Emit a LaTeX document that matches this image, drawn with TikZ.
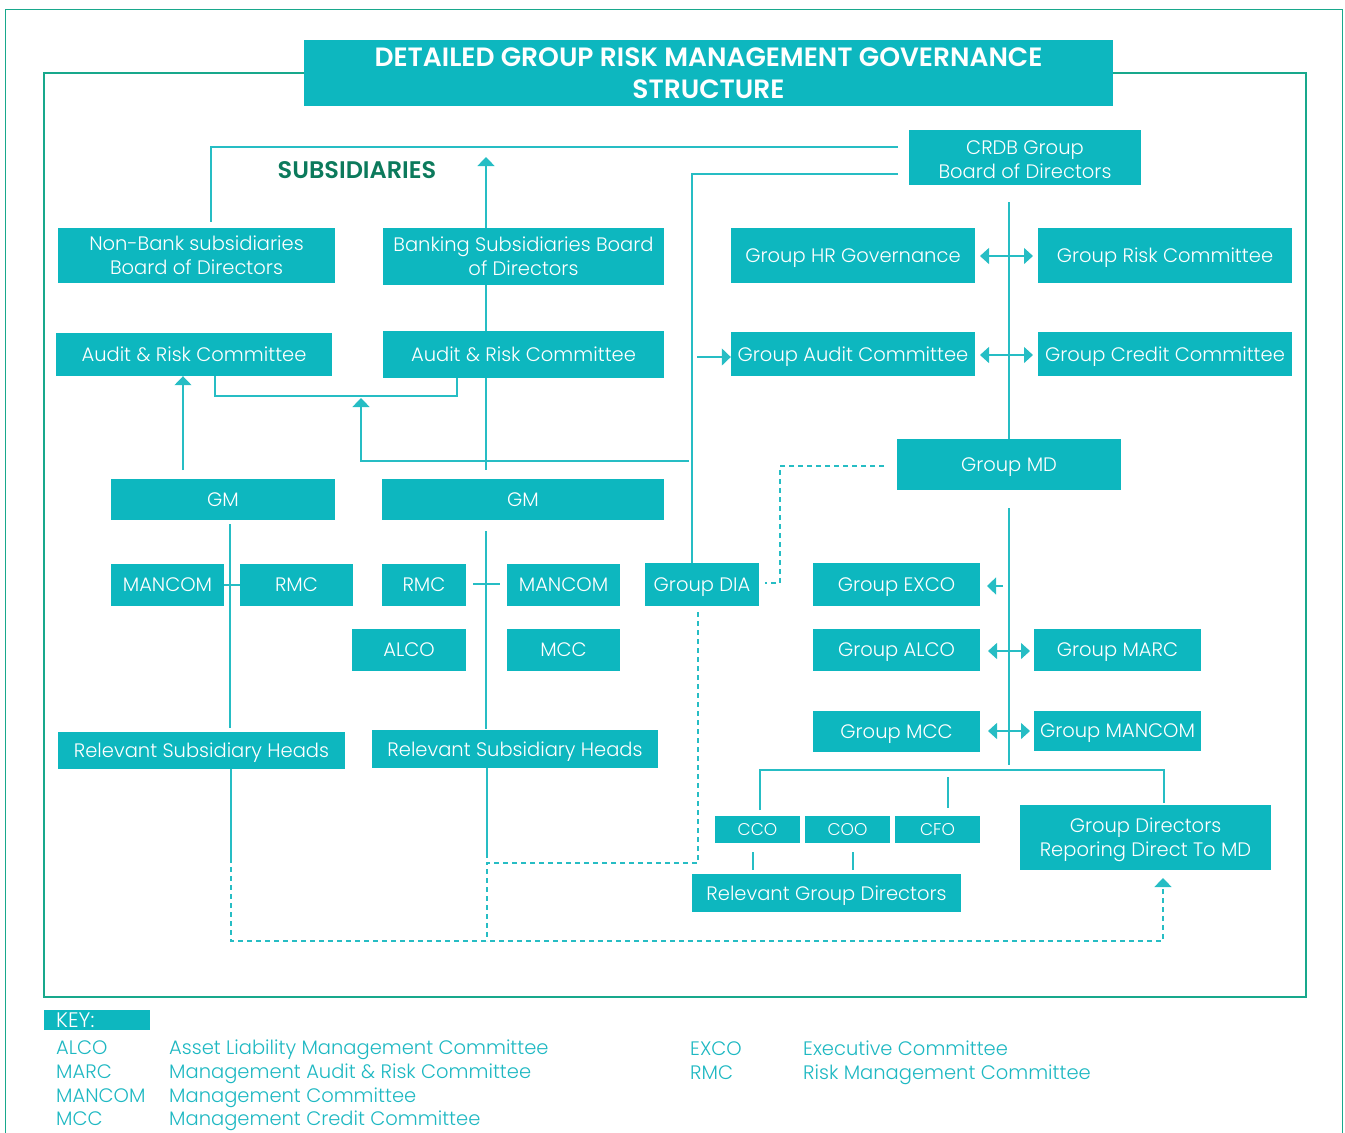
\documentclass[tikz,border=0pt]{standalone}
\usepackage{fontspec}
\setmainfont{Poppins}[UprightFont=* Light]
\usetikzlibrary{arrows.meta}

\definecolor{boxc}{RGB}{13,183,191}
\definecolor{linec}{RGB}{38,189,196}
\definecolor{framec}{RGB}{24,168,140}
\definecolor{subc}{RGB}{12,122,92}
\definecolor{keyc}{RGB}{30,184,194}

\tikzset{
  box/.style={fill=boxc, text=white, inner sep=0pt, align=center, text depth=0pt,
              font=\fontsize{19.5}{24}\selectfont},
  link/.style={draw=linec, line width=1.3pt},
  dlink/.style={link, dash pattern=on 5pt off 4pt},
  onehead/.style={-{Triangle[width=17pt,length=9pt]}},
  twoheads/.style={{Triangle[width=16pt,length=9pt]}-{Triangle[width=16pt,length=9pt]}},
  keytext/.style={anchor=base west, inner sep=0pt, text=keyc,
                  font=\fontsize{19.5}{22}\selectfont},
}

\begin{document}
\begin{tikzpicture}[x=1pt,y=-1pt]
\useasboundingbox (0,0) rectangle (1345,1133);

% frames
\draw[draw=framec, line width=1.5pt] (5.5,1133) -- (5.5,9.5) -- (1342.5,9.5) -- (1342.5,1133);
\draw[draw=framec, line width=1.4pt] (44,73) rectangle (1306,997);

% title
\node[box, minimum width=809pt, minimum height=66pt,
      font=\bfseries\fontsize{26.5}{32}\selectfont] (title) at (708.5,73)
  {DETAILED GROUP RISK MANAGEMENT GOVERNANCE\\STRUCTURE};

\node[inner sep=0pt, text=subc, font=\bfseries\fontsize{24}{26}\selectfont] (subs) at (357,170) {SUBSIDIARIES};

% group level
\node[box, minimum width=232pt, minimum height=55pt] (crdb) at (1025,157.5) {\rule{0pt}{17pt}CRDB Group\\Board of Directors};
\node[box, minimum width=244pt, minimum height=55pt] (hr)  at (853,255.5)  {Group HR Governance};
\node[box, minimum width=254pt, minimum height=55pt] (grc) at (1165,255.5) {Group Risk Committee};
\node[box, minimum width=244pt, minimum height=44pt] (gac) at (853,354)    {Group Audit Committee};
\node[box, minimum width=254pt, minimum height=44pt] (gcc) at (1165,354)   {Group Credit Committee};
\node[box, minimum width=224pt, minimum height=51pt] (md)  at (1009,464.5) {Group MD};
\node[box, minimum width=167pt, minimum height=43pt] (exco) at (896.5,584.5) {Group EXCO};
\node[box, minimum width=167pt, minimum height=42pt] (galco) at (896.5,650) {Group ALCO};
\node[box, minimum width=167pt, minimum height=42pt] (gmarc) at (1117.5,650) {Group MARC};
\node[box, minimum width=167pt, minimum height=41pt] (gmcc) at (896.5,731.5) {Group MCC};
\node[box, minimum width=167pt, minimum height=40pt] (gmancom) at (1117.5,731) {Group MANCOM};
\node[box, minimum width=85pt, minimum height=27pt, font=\fontsize{17}{20}\selectfont] (cco) at (757.5,829.5) {CCO};
\node[box, minimum width=85pt, minimum height=27pt, font=\fontsize{17}{20}\selectfont] (coo) at (847.5,829.5) {COO};
\node[box, minimum width=85pt, minimum height=27pt, font=\fontsize{17}{20}\selectfont] (cfo) at (937.5,829.5) {CFO};
\node[box, minimum width=269pt, minimum height=38pt] (rgd) at (826.5,893) {Relevant Group Directors};
\node[box, minimum width=251pt, minimum height=65pt] (gdr) at (1145.5,837.5) {Group Directors\\Reporing Direct To MD};
\node[box, minimum width=114pt, minimum height=43pt] (dia) at (702,584.5) {Group DIA};

% subsidiaries
\node[box, minimum width=277pt, minimum height=55pt] (nonbank) at (196.5,255.5) {Non-Bank subsidiaries\\Board of Directors};
\node[box, minimum width=281pt, minimum height=57pt] (banking) at (523.5,256.5) {Banking Subsidiaries Board\\of Directors};
\node[box, minimum width=276pt, minimum height=43pt] (arc1) at (194,354.5) {Audit \& Risk Committee};
\node[box, minimum width=281pt, minimum height=47pt] (arc2) at (523.5,354.5) {Audit \& Risk Committee};
\node[box, minimum width=224pt, minimum height=41pt] (gm1) at (223,499.5) {GM};
\node[box, minimum width=282pt, minimum height=41pt] (gm2) at (523,499.5) {GM};
\node[box, minimum width=113pt, minimum height=42pt] (mancom1) at (167.5,585) {MANCOM};
\node[box, minimum width=113pt, minimum height=42pt] (rmc1) at (296.5,585) {RMC};
\node[box, minimum width=84pt, minimum height=42pt] (rmc2) at (424,585) {RMC};
\node[box, minimum width=113pt, minimum height=42pt] (mancom2) at (563.5,585) {MANCOM};
\node[box, minimum width=114pt, minimum height=42pt] (alco) at (409,650) {ALCO};
\node[box, minimum width=113pt, minimum height=42pt] (mcc) at (563.5,650) {MCC};
\node[box, minimum width=287pt, minimum height=37pt] (rsh1) at (201.5,750.5) {Relevant Subsidiary Heads};
\node[box, minimum width=286pt, minimum height=38pt] (rsh2) at (515,749) {Relevant Subsidiary Heads};

% connector end points
\coordinate (crdbA) at (898,147);
\coordinate (nbTop) at (211,222);
\coordinate (subsArrow) at (486,157);
\coordinate (crdbB) at (898,174);
\coordinate (spine) at (692,174);
\coordinate (gacIn) at (697,357);
\coordinate (armJ) at (689,461);
\coordinate (armUp) at (361,398);
\coordinate (armL) at (215,396);
\coordinate (armR) at (457,396);
\coordinate (gmUp) at (183,470);
\coordinate (bkx) at (486,470);
\coordinate (mdA) at (1009,202);
\coordinate (hrR) at (980,256);
\coordinate (grcL) at (1033,256);
\coordinate (gacR) at (980,355);
\coordinate (gccL) at (1033,355);
\coordinate (mdW) at (884,466);
\coordinate (diaE) at (765,583);
\coordinate (mdB) at (1009,508);
\coordinate (mdEnd) at (1009,765);
\coordinate (excoJ) at (1003,586);
\coordinate (excoR) at (987,586);
\coordinate (alcoR) at (988,651);
\coordinate (marcL) at (1030,651);
\coordinate (mccR) at (988,731);
\coordinate (mancomL) at (1030,731);
\coordinate (ccoT) at (760,810);
\coordinate (gdrT) at (1164,803);
\coordinate (cfoA) at (948,777);
\coordinate (cfoT) at (948,808);
\coordinate (ccoB) at (753,852);
\coordinate (rgdA) at (753,870);
\coordinate (cooB) at (853,852);
\coordinate (rgdB) at (853,870);
\coordinate (rsh1D) at (231,858);
\coordinate (rsh2D) at (487,858);
\coordinate (gdrB) at (1163,878);
\coordinate (diaD) at (698,612);
\coordinate (lgmA) at (230,524);
\coordinate (lgmB) at (230,728);
\coordinate (rgmA) at (486,531);
\coordinate (rgmB) at (486,729);
\coordinate (rmcR) at (473,584);
\coordinate (mancomLL) at (500,584);

% board links
\draw[link] (crdbA) -| (nbTop);
\draw[link, onehead] (banking.north -| subsArrow) -- (subsArrow);
\draw[link] (crdbB) -- (spine) -- (dia.north -| spine);
\draw[link, onehead] (gacIn) -- (gac.west |- gacIn);
\draw[link, onehead] (armJ) -| (armUp);
\draw[link] (arc1.south -| armL) -- (armL) -- (armR) -- (arc2.south -| armR);
\draw[link, onehead] (gmUp) -- (arc1.south -| gmUp);
\draw[link] (banking.south -| bkx) -- (arc2.north -| bkx);
\draw[link] (arc2.south -| bkx) -- (bkx);

% group spine
\draw[link] (mdA) -- (md.north);
\draw[link, twoheads] (hrR) -- (grcL);
\draw[link, twoheads] (gacR) -- (gccL);
\draw[dlink] (mdW) -- (780,466) |- (diaE);
\draw[link] (mdB) -- (mdEnd);
\draw[link, onehead] (excoJ) -- (excoR);
\draw[link, twoheads] (alcoR) -- (marcL);
\draw[link, twoheads] (mccR) -- (mancomL);
\draw[link] (ccoT) -- (760,770) -- (1164,770) -- (gdrT);
\draw[link] (cfoA) -- (cfoT);
\draw[link] (ccoB) -- (rgdA);
\draw[link] (cooB) -- (rgdB);

% subsidiary chains
\draw[link] (lgmA) -- (lgmB);
\draw[link] (mancom1.east) -- (rmc1.west);
\draw[link] (rgmA) -- (rgmB);
\draw[link] (rmcR) -- (mancomLL);

% reporting lines to group directors
\draw[link] (rsh1.south -| rsh1D) -- (rsh1D);
\draw[link] (rsh2.south -| rsh2D) -- (rsh2D);
\draw[dlink] (diaD) -- (698,863) -- (487,863) -- (487,941);
\draw[dlink, onehead] (rsh1D) -- (231,941) -- (1163,941) -- (gdrB);

% key
\node[box, minimum width=106pt, minimum height=20pt] (key) at (97,1020) {};
\node[anchor=base west, inner sep=0pt, text=white, font=\fontsize{21}{22}\selectfont] (keylbl) at (56,1027.5) {KEY:};
\node[keytext] (k1a) at (56,1054) {ALCO};
\node[keytext] (k1b) at (169,1054) {Asset Liability Management Committee};
\node[keytext] (k2a) at (56,1078) {MARC};
\node[keytext] (k2b) at (169,1078) {Management Audit \& Risk Committee};
\node[keytext] (k3a) at (56,1102) {MANCOM};
\node[keytext] (k3b) at (169,1102) {Management Committee};
\node[keytext] (k4a) at (56,1125) {MCC};
\node[keytext] (k4b) at (169,1125) {Management Credit Committee};
\node[keytext] (k5a) at (690,1055) {EXCO};
\node[keytext] (k5b) at (803,1055) {Executive Committee};
\node[keytext] (k6a) at (690,1079) {RMC};
\node[keytext] (k6b) at (803,1079) {Risk Management Committee};
\end{tikzpicture}
\end{document}
